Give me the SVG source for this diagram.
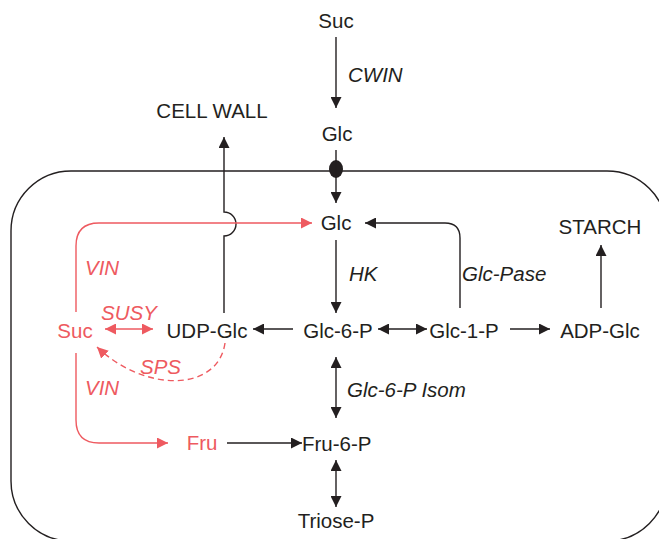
<svg xmlns="http://www.w3.org/2000/svg" width="659" height="539" viewBox="0 0 659 539">
<style>
text{font-family:"Liberation Sans",Arial,sans-serif;font-size:20.5px;fill:#231f20}
.r{fill:#ee5a60}
.i{font-style:italic}
.m{text-anchor:middle}
.k{fill:none;stroke:#231f20;stroke-width:1.4}
.rl{fill:none;stroke:#ee5a60;stroke-width:1.4}
</style>
<defs>
<marker id="ak" markerUnits="userSpaceOnUse" markerWidth="11" markerHeight="11" refX="10" refY="5" orient="auto-start-reverse" viewBox="0 0 10 10"><path d="M0,0 L10,5 L0,10 z" fill="#231f20"/></marker>
<marker id="ar" markerUnits="userSpaceOnUse" markerWidth="11" markerHeight="11" refX="10" refY="5" orient="auto-start-reverse" viewBox="0 0 10 10"><path d="M0,0 L10,5 L0,10 z" fill="#ee5a60"/></marker>
</defs>
<g id="cell">
<rect x="11" y="171" width="656" height="370" rx="60" ry="60" class="k"/>
<ellipse cx="336" cy="169" rx="7" ry="9" fill="#231f20"/>
</g>
<g id="connectors">
<line x1="336" y1="37" x2="336" y2="108" class="k" marker-end="url(#ak)"/>
<line x1="336" y1="150" x2="336" y2="203" class="k" marker-end="url(#ak)"/>
<line x1="336" y1="240" x2="336" y2="313" class="k" marker-end="url(#ak)"/>
<path d="M460,308 V238 Q460,223 445,223 H365" class="k" marker-end="url(#ak)"/>
<line x1="378" y1="329" x2="427" y2="329" class="k" marker-start="url(#ak)" marker-end="url(#ak)"/>
<line x1="510" y1="329" x2="550" y2="329" class="k" marker-end="url(#ak)"/>
<line x1="601" y1="308" x2="601" y2="245" class="k" marker-end="url(#ak)"/>
<line x1="293" y1="329" x2="253" y2="329" class="k" marker-end="url(#ak)"/>
<path d="M224,313 V236 A12,12 0 0 0 224,212 V137" class="k" marker-end="url(#ak)"/>
<path d="M76,312 V246 Q76,223 99,223 H312" class="rl" marker-end="url(#ar)"/>
<path d="M76,353 V420 Q76,443 99,443 H168" class="rl" marker-end="url(#ar)"/>
<line x1="105" y1="329" x2="153" y2="329" class="rl" marker-start="url(#ar)" marker-end="url(#ar)"/>
<path d="M225,343 C218,392 145,393 97,347" class="rl" stroke-dasharray="6,4" marker-end="url(#ar)"/>
<line x1="227" y1="443" x2="302" y2="443" class="k" marker-end="url(#ak)"/>
<line x1="336" y1="357" x2="336" y2="418" class="k" marker-start="url(#ak)" marker-end="url(#ak)"/>
<line x1="336" y1="460" x2="336" y2="507" class="k" marker-start="url(#ak)" marker-end="url(#ak)"/>
</g>
<g id="n-suc-out"><text x="336" y="28" class="m">Suc</text></g>
<g id="l-cwin"><text x="348" y="82" class="i">CWIN</text></g>
<g id="n-glc-out"><text x="337" y="141" class="m">Glc</text></g>
<g id="n-cellwall"><text x="212" y="118" class="m">CELL WALL</text></g>
<g id="n-glc"><text x="336" y="230" class="m">Glc</text></g>
<g id="n-starch"><text x="600" y="234" class="m">STARCH</text></g>
<g id="l-hk"><text x="349" y="281" class="i">HK</text></g>
<g id="l-glcpase"><text x="462" y="281" class="i">Glc-Pase</text></g>
<g id="n-g6p"><text x="338" y="338" class="m">Glc-6-P</text></g>
<g id="n-g1p"><text x="464" y="338" class="m">Glc-1-P</text></g>
<g id="n-adpglc"><text x="600" y="338" class="m">ADP-Glc</text></g>
<g id="n-udpglc"><text x="207" y="338" class="m">UDP-Glc</text></g>
<g id="n-suc"><text x="75" y="338" class="m r">Suc</text></g>
<g id="l-vin1"><text x="85" y="275" class="i r">VIN</text></g>
<g id="l-susy"><text x="101" y="320" class="i r">SUSY</text></g>
<g id="l-sps"><text x="140" y="374" class="i r">SPS</text></g>
<g id="l-vin2"><text x="85" y="395" class="i r">VIN</text></g>
<g id="l-isom"><text x="347" y="397" class="i">Glc-6-P Isom</text></g>
<g id="n-fru"><text x="202" y="450" class="m r">Fru</text></g>
<g id="n-f6p"><text x="302" y="451">Fru-6-P</text></g>
<g id="n-triose"><text x="336" y="528" class="m">Triose-P</text></g>
</svg>
